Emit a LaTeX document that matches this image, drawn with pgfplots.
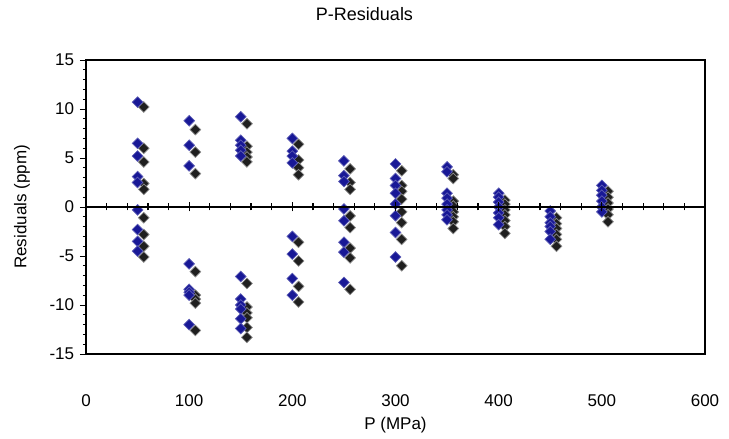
\documentclass[border=0pt]{standalone}
\usepackage{fontspec}
\setmainfont{Liberation Sans}
\usepackage{pgfplots}
\pgfplotsset{compat=1.18}
\definecolor{ptblue}{RGB}{24,24,150}
\begin{document}
\fontsize{17}{20}\selectfont
\begin{tikzpicture}
\pgfplotsset{every axis/.append style={
  scale only axis, width=619pt, height=294pt,
  xmin=0, xmax=600, ymin=-15, ymax=15,
  /pgf/number format/assume math mode=true,
  tick label style={font=\fontsize{17}{20}\selectfont},
}}
\begin{axis}[
  axis line style={line width=1.1pt},
  xtick={0,100,...,600}, xtick style={draw=none},
  xticklabel style={anchor=center, yshift=-41pt},
  ytick={-15,-10,...,15}, minor y tick num=4, ytick pos=left,
  tick align=outside, major tick length=6pt, minor tick length=3pt,
  every tick/.style={black, line width=0.9pt},
  xlabel={P (MPa)},
  xlabel style={at={([yshift=-71pt]axis description cs:0.5,0)}, anchor=center, font=\fontsize{17}{20}\selectfont},
  ylabel={Residuals (ppm)},
  ylabel style={at={([xshift=-64pt]axis description cs:0,0.5)}, anchor=center, font=\fontsize{17}{20}\selectfont},
  title={P-Residuals},
  title style={at={([xshift=-31pt,yshift=40pt]axis description cs:0.5,1)}, anchor=center, font=\fontsize{18}{21}\selectfont},
]
% black series (offset right)
\addplot[only marks, mark=square*, mark size=3.8pt,
  mark options={rotate=45, fill=black!88, draw=black!45, line width=0.7pt}]
  coordinates {
  (56,10.2) (56,6.0) (56,4.6) (56,2.4) (56,1.8) (56,-1.1) (56,-2.8) (56,-4.0) (56,-5.1)
  (106,7.9) (106,5.6) (106,3.4) (106,-6.6) (106,-9.0) (106,-9.4) (106,-9.8) (106,-12.6)
  (156,8.5) (156,6.2) (156,5.6) (156,5.1) (156,4.6) (156,-7.8) (156,-10.2) (156,-10.8) (156,-11.3) (156,-12.3) (156,-13.3)
  (206,6.4) (206,4.8) (206,4.0) (206,3.3) (206,-3.6) (206,-5.5) (206,-8.1) (206,-9.7)
  (256,3.9) (256,2.5) (256,1.8) (256,-0.9) (256,-2.1) (256,-4.2) (256,-5.2) (256,-8.4)
  (306,3.7) (306,2.2) (306,1.6) (306,0.8) (306,-0.5) (306,-1.6) (306,-3.3) (306,-6.0)
  (356,3.3) (356,2.9) (356,0.6) (356,0.1) (356,-0.5) (356,-1.0) (356,-1.5) (356,-2.2)
  (406,0.7) (406,0.3) (406,-0.3) (406,-0.8) (406,-1.4) (406,-2.0) (406,-2.7)
  (456,-1.1) (456,-1.7) (456,-2.2) (456,-2.8) (456,-3.3) (456,-4.0)
  (506,1.6) (506,1.0) (506,0.4) (506,-0.2) (506,-0.8) (506,-1.5)
  };
% blue series
\addplot[only marks, mark=square*, mark size=3.8pt,
  mark options={rotate=45, fill=ptblue, draw=ptblue!70, line width=0.7pt}]
  coordinates {
  (50,10.7) (50,6.5) (50,5.2) (50,3.1) (50,2.5) (50,-0.3) (50,-2.3) (50,-3.5) (50,-4.5)
  (100,8.8) (100,6.3) (100,4.2) (100,-5.8) (100,-8.4) (100,-8.7) (100,-9.0) (100,-12.0)
  (150,9.2) (150,6.8) (150,6.3) (150,5.8) (150,5.2) (150,-7.1) (150,-9.4) (150,-10.0) (150,-10.4) (150,-11.4) (150,-12.4)
  (200,7.0) (200,5.7) (200,5.2) (200,4.5) (200,-3.0) (200,-4.8) (200,-7.3) (200,-9.0)
  (250,4.7) (250,3.2) (250,2.6) (250,-0.2) (250,-1.4) (250,-3.6) (250,-4.6) (250,-7.7)
  (300,4.4) (300,2.9) (300,2.2) (300,1.4) (300,0.3) (300,-0.9) (300,-2.6) (300,-5.1)
  (350,4.1) (350,3.6) (350,1.4) (350,0.9) (350,0.3) (350,-0.3) (350,-0.8) (350,-1.3)
  (400,1.4) (400,1.0) (400,0.5) (400,0.0) (400,-0.6) (400,-1.1) (400,-1.8)
  (450,-0.4) (450,-1.0) (450,-1.6) (450,-2.0) (450,-2.5) (450,-3.3)
  (500,2.2) (500,1.7) (500,1.2) (500,0.6) (500,0.0) (500,-0.5)
  };
\end{axis}
% zero line with its ticks
\begin{axis}[
  axis x line*=middle, axis y line=none,
  axis line style={line width=2pt},
  xtick={0,100,...,600}, minor x tick num=4, xticklabels={},
  tick align=center, major tick length=9pt, minor tick length=7pt,
  every tick/.style={black, line width=1.2pt},
  ytick=\empty,
]
\end{axis}
\pgfresetboundingbox
\path[use as bounding box] (-86pt,-85pt) rectangle (643pt,354pt);
\end{tikzpicture}
\end{document}
